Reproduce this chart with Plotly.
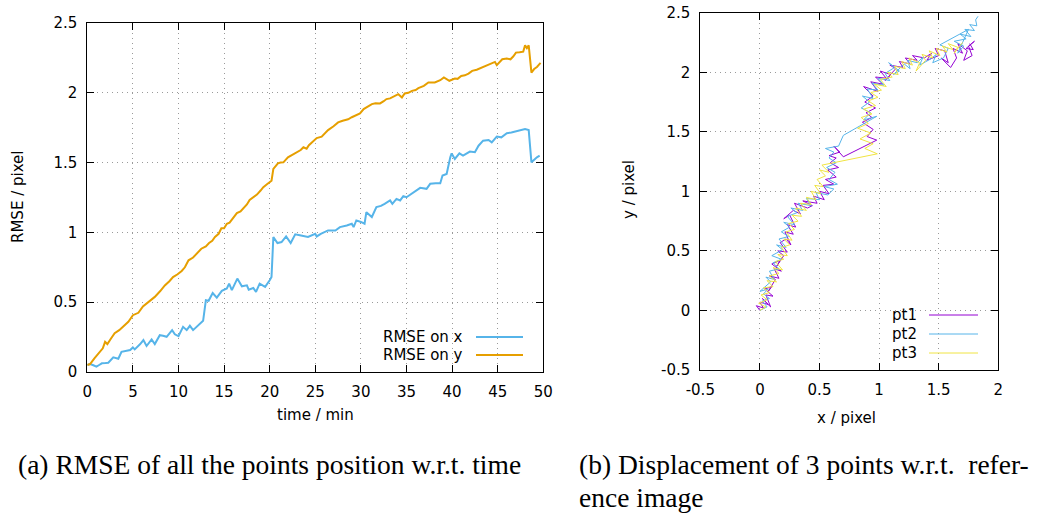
import plotly.graph_objects as go

# ---- (a) RMSE of all tracked points against time ----
t_y = [0.0, 0.3, 0.8, 1.4, 1.7, 1.95, 2.2, 2.6, 3.0, 3.5, 3.95, 4.5, 5.0, 5.6, 6.1, 6.7,
       7.4, 8.0, 8.5, 9.0, 9.4, 9.9, 10.35, 10.7, 11.1, 11.6, 12.0, 12.5, 13.0, 13.35,
       13.7, 14.0, 14.4, 14.7, 15.0, 15.3, 15.6, 16.0, 16.4, 16.8, 17.1, 17.5, 17.8,
       18.2, 18.6, 19.0, 19.3, 19.7, 20.0, 20.2, 20.4, 20.6, 20.9, 21.2, 21.5, 22.0,
       22.5, 23.0, 23.4, 23.7, 24.05, 24.3, 24.6, 25.15, 25.7, 26.1, 26.4, 27.0, 27.5,
       28.0, 28.6, 29.0, 29.35, 29.9, 30.3, 30.7, 31.2, 31.6, 32.1, 32.5, 32.8, 33.2,
       33.5, 34.1, 34.5, 34.8, 35.2, 35.6, 36.0, 36.3, 36.9, 37.4, 38.1, 38.7, 39.1,
       39.7, 40.3, 40.6, 41.0, 41.4, 41.8, 42.2, 42.7, 43.3, 43.9, 44.3, 44.7, 44.9,
       45.2, 45.5, 46.0, 46.4, 46.7, 47.0, 47.4, 47.8, 48.0, 48.2, 48.4, 48.7, 49.0,
       49.3, 49.7]
rmse_y = [0.05, 0.057, 0.10, 0.145, 0.17, 0.216, 0.200, 0.24, 0.278, 0.30, 0.324, 0.36,
          0.407, 0.424, 0.47, 0.50, 0.538, 0.58, 0.62, 0.65, 0.68, 0.70, 0.724, 0.75,
          0.80, 0.82, 0.848, 0.883, 0.90, 0.924, 0.94, 0.967, 0.99, 1.03, 1.03, 1.062,
          1.07, 1.10, 1.138, 1.15, 1.17, 1.20, 1.233, 1.25, 1.271, 1.30, 1.324, 1.345,
          1.36, 1.37, 1.455, 1.47, 1.495, 1.50, 1.502, 1.538, 1.556, 1.574, 1.59, 1.61,
          1.60, 1.625, 1.645, 1.676, 1.686, 1.71, 1.733, 1.76, 1.788, 1.80, 1.81, 1.825,
          1.836, 1.852, 1.883, 1.90, 1.919, 1.925, 1.924, 1.94, 1.955, 1.96, 1.971,
          1.99, 1.967, 1.995, 2.00, 2.014, 2.02, 2.033, 2.05, 2.074, 2.074, 2.09, 2.11,
          2.086, 2.102, 2.10, 2.121, 2.125, 2.138, 2.157, 2.165, 2.181, 2.198, 2.205,
          2.221, 2.198, 2.22, 2.24, 2.245, 2.24, 2.26, 2.288, 2.29, 2.295, 2.34, 2.32,
          2.34, 2.145, 2.17, 2.185, 2.214]

t_x = [0.0, 0.3, 0.6, 1.0, 1.3, 1.6, 2.0, 2.3, 2.85, 3.4, 3.75, 4.2, 4.7, 5.0, 5.2, 5.8,
       6.15, 6.5, 7.05, 7.4, 7.95, 8.3, 8.7, 9.3, 9.6, 10.0, 10.5, 10.9, 11.25, 11.6,
       12.2, 12.7, 13.0, 13.3, 13.75, 14.2, 14.75, 15.3, 15.55, 15.85, 16.45, 16.95,
       17.5, 17.7, 18.2, 18.5, 18.9, 19.5, 20.0, 20.2, 20.4, 20.85, 21.3, 21.8, 22.3,
       22.8, 23.3, 24.2, 25.0, 25.15, 25.6, 26.1, 26.4, 27.2, 27.7, 28.45, 29.0, 29.2,
       29.5, 30.0, 30.4, 30.6, 31.2, 31.7, 32.2, 32.6, 33.2, 33.45, 33.9, 34.3, 34.65,
       35.0, 35.75, 36.5, 37.2, 37.6, 38.2, 38.7, 38.95, 39.4, 39.8, 39.95, 40.3, 40.8,
       41.2, 41.95, 42.5, 42.9, 43.4, 44.0, 44.35, 44.9, 45.4, 46.0, 46.5, 47.1, 47.6,
       48.0, 48.4, 48.7, 49.3, 49.6]
rmse_x = [0.05, 0.057, 0.05, 0.038, 0.05, 0.062, 0.064, 0.066, 0.105, 0.095, 0.145,
          0.15, 0.157, 0.176, 0.162, 0.20, 0.229, 0.186, 0.233, 0.20, 0.264, 0.26,
          0.252, 0.30, 0.27, 0.257, 0.324, 0.30, 0.331, 0.30, 0.336, 0.367, 0.514, 0.51,
          0.566, 0.533, 0.581, 0.598, 0.633, 0.586, 0.669, 0.614, 0.621, 0.59, 0.602,
          0.574, 0.633, 0.61, 0.657, 0.68, 0.967, 0.924, 0.931, 0.971, 0.924, 0.986,
          0.979, 0.967, 0.99, 0.971, 0.99, 1.002, 1.014, 1.014, 1.038, 1.05, 1.062,
          1.038, 1.086, 1.075, 1.062, 1.145, 1.11, 1.181, 1.19, 1.205, 1.229, 1.205,
          1.24, 1.229, 1.26, 1.252, 1.288, 1.319, 1.312, 1.348, 1.352, 1.352, 1.407,
          1.419, 1.538, 1.566, 1.526, 1.566, 1.55, 1.579, 1.574, 1.621, 1.657, 1.662,
          1.645, 1.686, 1.681, 1.71, 1.715, 1.724, 1.73, 1.74, 1.733, 1.502, 1.538, 1.55]

# ---- (b) displacement of three points w.r.t. the reference image ----
pt1_x = [0.00, -0.03, 0.03, 0.00, 0.07, 0.02, 0.09, 0.05, 0.11, 0.04, 0.10, 0.07, 0.13,
         0.08, 0.16, 0.12, 0.18, 0.10, 0.17, 0.14, 0.20, 0.15, 0.23, 0.17, 0.22, 0.26,
         0.21, 0.28, 0.23, 0.30, 0.25, 0.20, 0.28, 0.34, 0.29, 0.40, 0.44, 0.36, 0.48,
         0.45, 0.54, 0.50, 0.58, 0.53, 0.62, 0.55, 0.64, 0.57, 0.66, 0.59, 0.64, 0.58,
         0.67, 0.62, 0.70, 0.98, 0.90, 0.95, 0.86, 0.94, 0.89, 0.97, 0.88, 0.95, 0.87,
         0.99, 0.93, 1.03, 0.97, 1.06, 1.01, 1.10, 1.05, 1.14, 1.09, 1.20, 1.17, 1.26,
         1.22, 1.32, 1.28, 1.38, 1.44, 1.40, 1.50, 1.47, 1.55, 1.58, 1.52, 1.60, 1.65,
         1.62, 1.70, 1.66, 1.74, 1.71, 1.78, 1.75, 1.80, 1.73, 1.79, 1.76]
pt1_y = [0.00, 0.04, 0.02, 0.07, 0.05, 0.10, 0.03, 0.13, 0.12, 0.18, 0.20, 0.16, 0.26,
         0.29, 0.27, 0.35, 0.33, 0.39, 0.42, 0.37, 0.46, 0.50, 0.49, 0.57, 0.60, 0.55,
         0.66, 0.64, 0.72, 0.70, 0.80, 0.77, 0.84, 0.81, 0.90, 0.86, 0.88, 0.92, 0.90,
         0.96, 0.93, 1.00, 0.98, 1.05, 1.06, 1.10, 1.12, 1.18, 1.20, 1.24, 1.28, 1.30,
         1.33, 1.38, 1.29, 1.43, 1.46, 1.52, 1.58, 1.62, 1.66, 1.70, 1.75, 1.80, 1.88,
         1.84, 1.92, 1.90, 1.96, 1.95, 2.01, 1.98, 1.93, 2.03, 2.06, 2.04, 2.09, 2.07,
         2.12, 2.10, 2.14, 2.12, 2.16, 2.10, 2.14, 2.20, 2.18, 2.08, 2.12, 2.04, 2.12,
         2.20, 2.16, 2.24, 2.18, 2.10, 2.14, 2.22, 2.26, 2.20, 2.19, 2.24]

pt2_x = [0.00, 0.06, 0.02, 0.08, 0.03, 0.07, 0.00, 0.09, 0.05, 0.12, 0.08, 0.16, 0.11,
         0.18, 0.10, 0.19, 0.14, 0.22, 0.16, 0.24, 0.18, 0.25, 0.20, 0.29, 0.23, 0.31,
         0.26, 0.36, 0.32, 0.43, 0.39, 0.50, 0.47, 0.57, 0.62, 0.54, 0.65, 0.58, 0.63,
         0.56, 0.64, 0.58, 0.62, 0.55, 0.66, 0.70, 0.98, 0.87, 0.93, 0.85, 0.92, 0.86,
         0.95, 0.90, 0.99, 0.94, 1.04, 0.99, 1.09, 1.05, 1.13, 1.08, 1.17, 1.12, 1.21,
         1.26, 1.24, 1.32, 1.37, 1.34, 1.43, 1.48, 1.45, 1.54, 1.58, 1.51, 1.75, 1.66,
         1.71, 1.63, 1.73, 1.68, 1.77, 1.72, 1.80, 1.76, 1.82, 1.81, 1.83]
pt2_y = [0.00, 0.03, 0.08, 0.10, 0.14, 0.18, 0.16, 0.24, 0.28, 0.26, 0.33, 0.35, 0.40,
         0.43, 0.46, 0.51, 0.55, 0.53, 0.60, 0.62, 0.66, 0.70, 0.74, 0.72, 0.79, 0.82,
         0.86, 0.84, 0.90, 0.88, 0.94, 0.93, 0.99, 0.97, 1.02, 1.04, 1.06, 1.10, 1.16,
         1.20, 1.24, 1.28, 1.33, 1.36, 1.38, 1.47, 1.63, 1.60, 1.66, 1.70, 1.75, 1.80,
         1.78, 1.86, 1.85, 1.91, 1.89, 1.95, 1.93, 1.99, 2.04, 2.08, 2.01, 1.98, 2.07,
         2.03, 2.10, 2.08, 2.13, 2.06, 2.11, 2.15, 2.08, 2.12, 2.20, 2.23, 2.36, 2.16,
         2.22, 2.26, 2.28, 2.32, 2.30, 2.36, 2.35, 2.40, 2.39, 2.44, 2.47]

pt3_x = [0.00, 0.05, -0.01, 0.06, 0.01, 0.08, 0.03, 0.11, 0.06, 0.14, 0.08, 0.16, 0.11,
         0.19, 0.13, 0.20, 0.15, 0.23, 0.18, 0.25, 0.20, 0.27, 0.22, 0.29, 0.24, 0.32,
         0.27, 0.35, 0.30, 0.39, 0.34, 0.43, 0.39, 0.47, 0.43, 0.51, 0.46, 0.53, 0.48,
         0.55, 0.50, 0.58, 0.52, 0.60, 0.64, 0.985, 0.88, 0.95, 0.84, 0.93, 0.82, 0.91,
         0.85, 0.94, 0.87, 0.97, 0.91, 0.99, 0.93, 1.02, 0.96, 1.06, 1.01, 1.11, 1.07,
         1.16, 1.13, 1.22, 1.19, 1.28, 1.25, 1.34, 1.31, 1.39, 1.36, 1.45, 1.42, 1.51,
         1.48, 1.57, 1.53, 1.62, 1.58, 1.66, 1.63, 1.70]
pt3_y = [0.00, 0.03, 0.06, 0.09, 0.13, 0.15, 0.19, 0.20, 0.25, 0.24, 0.29, 0.31, 0.36,
         0.34, 0.41, 0.43, 0.47, 0.46, 0.53, 0.55, 0.60, 0.59, 0.66, 0.68, 0.73, 0.75,
         0.80, 0.79, 0.86, 0.84, 0.90, 0.89, 0.95, 0.93, 1.00, 0.98, 1.05, 1.04, 1.10,
         1.13, 1.18, 1.16, 1.22, 1.24, 1.245, 1.315, 1.36, 1.40, 1.44, 1.49, 1.53, 1.57,
         1.62, 1.65, 1.69, 1.72, 1.76, 1.79, 1.83, 1.85, 1.90, 1.88, 1.94, 1.96, 2.00,
         1.98, 2.05, 2.03, 2.09, 2.06, 2.12, 2.08, 2.01, 2.10, 2.15, 2.12, 2.18, 2.14,
         2.20, 2.17, 2.22, 2.19, 2.24, 2.21, 2.16, 2.25]

left_xticks = [0, 5, 10, 15, 20, 25, 30, 35, 40, 45, 50]
left_yticks = [0, 0.5, 1, 1.5, 2, 2.5]
left_ytext = ["0", "0.5", "1", "1.5", "2", "2.5"]
right_xticks = [-0.5, 0, 0.5, 1, 1.5, 2]
right_xtext = ["-0.5", "0", "0.5", "1", "1.5", "2"]
right_yticks = [-0.5, 0, 0.5, 1, 1.5, 2, 2.5]
right_ytext = ["-0.5", "0", "0.5", "1", "1.5", "2", "2.5"]

C_BLUE = "#56B4E9"
C_ORANGE = "#E69F00"
C_PURPLE = "#9400D3"
C_YELLOW = "#F0E442"

W, H = 1051, 514
TICK_FONT = dict(family="DejaVu Sans", size=15, color="#000000")
CAP_FONT = dict(family="Liberation Serif", size=27.5, color="#000000")


def px(x):
    return x / W


def py(y):
    return 1 - y / H


fig = go.Figure()

fig.add_trace(go.Scatter(x=t_x, y=rmse_x, mode="lines", line=dict(color=C_BLUE, width=2),
                         xaxis="x", yaxis="y", showlegend=False))
fig.add_trace(go.Scatter(x=t_y, y=rmse_y, mode="lines", line=dict(color=C_ORANGE, width=2),
                         xaxis="x", yaxis="y", showlegend=False))

for xs, ys, c in [(pt1_x, pt1_y, C_PURPLE), (pt2_x, pt2_y, C_BLUE), (pt3_x, pt3_y, C_YELLOW)]:
    fig.add_trace(go.Scatter(x=xs, y=ys, mode="lines", line=dict(color=c, width=1),
                             xaxis="x2", yaxis="y2", showlegend=False))

axis_common = dict(
    showline=True, linecolor="#000000", linewidth=1, mirror="ticks",
    ticks="inside", ticklen=7, tickcolor="#000000", tickwidth=1,
    showgrid=True, gridcolor="#9a9a9a", griddash="1px,4px", gridwidth=1,
    zeroline=False, tickfont=TICK_FONT, fixedrange=True, automargin=False,
)

fig.update_layout(
    width=W, height=H,
    margin=dict(l=0, r=0, t=0, b=0, autoexpand=False),
    paper_bgcolor="white", plot_bgcolor="white",
    xaxis=dict(axis_common, domain=[px(87.3), px(543.3)], range=[0, 50],
               tickvals=left_xticks, anchor="y", ticklabelstandoff=6),
    yaxis=dict(axis_common, domain=[py(372), py(23)], range=[0, 2.5],
               tickvals=left_yticks, ticktext=left_ytext, anchor="x", ticklabelstandoff=6),
    xaxis2=dict(axis_common, domain=[px(700.3), px(998.3)], range=[-0.5, 2],
                tickvals=right_xticks, ticktext=right_xtext, anchor="y2", ticklabelstandoff=6),
    yaxis2=dict(axis_common, domain=[py(370), py(12.7)], range=[-0.5, 2.5],
                tickvals=right_yticks, ticktext=right_ytext, anchor="x2", ticklabelstandoff=6),
)

shapes = []
annotations = []

# key boxes hide the grid underneath
shapes.append(dict(type="rect", xref="paper", yref="paper", layer="between",
                   x0=px(376), x1=px(530), y0=py(328), y1=py(366),
                   fillcolor="white", line=dict(width=0)))
shapes.append(dict(type="rect", xref="paper", yref="paper", layer="between",
                   x0=px(886), x1=px(984), y0=py(305), y1=py(362),
                   fillcolor="white", line=dict(width=0)))

# key for (a)
for label, c, yk in [("RMSE on x", C_BLUE, 337), ("RMSE on y", C_ORANGE, 355)]:
    annotations.append(dict(text=label, xref="paper", yref="paper", x=px(465), y=py(yk),
                            xanchor="right", yanchor="middle", showarrow=False, font=TICK_FONT))
    shapes.append(dict(type="line", xref="paper", yref="paper", x0=px(476), x1=px(523),
                       y0=py(yk), y1=py(yk), line=dict(color=c, width=2)))

# key for (b)
for label, c, yk in [("pt1", C_PURPLE, 315), ("pt2", C_BLUE, 334), ("pt3", C_YELLOW, 353)]:
    annotations.append(dict(text=label, xref="paper", yref="paper", x=px(919), y=py(yk),
                            xanchor="right", yanchor="middle", showarrow=False, font=TICK_FONT))
    shapes.append(dict(type="line", xref="paper", yref="paper", x0=px(929), x1=px(978),
                       y0=py(yk), y1=py(yk), line=dict(color=c, width=1)))

# axis titles
annotations += [
    dict(text="RMSE / pixel", xref="paper", yref="paper", x=px(18), y=py(197),
         textangle=-90, showarrow=False, font=TICK_FONT, xanchor="center", yanchor="middle"),
    dict(text="time / min", xref="paper", yref="paper", x=px(315), y=py(415),
         showarrow=False, font=TICK_FONT, xanchor="center", yanchor="middle"),
    dict(text="y / pixel", xref="paper", yref="paper", x=px(629), y=py(190),
         textangle=-90, showarrow=False, font=TICK_FONT, xanchor="center", yanchor="middle"),
    dict(text="x / pixel", xref="paper", yref="paper", x=px(846), y=py(418),
         showarrow=False, font=TICK_FONT, xanchor="center", yanchor="middle"),
]

# sub-figure captions
annotations += [
    dict(text="(a) RMSE of all the points position w.r.t. time", xref="paper", yref="paper",
         x=px(16), y=py(464), xanchor="left", yanchor="middle", showarrow=False, font=CAP_FONT),
    dict(text="(b) Displacement of 3 points w.r.t.  refer-", xref="paper", yref="paper",
         x=px(577), y=py(464), xanchor="left", yanchor="middle", showarrow=False, font=CAP_FONT),
    dict(text="ence image", xref="paper", yref="paper",
         x=px(577), y=py(497), xanchor="left", yanchor="middle", showarrow=False, font=CAP_FONT),
]

fig.update_layout(shapes=shapes, annotations=annotations)
fig.write_html("out.html")
